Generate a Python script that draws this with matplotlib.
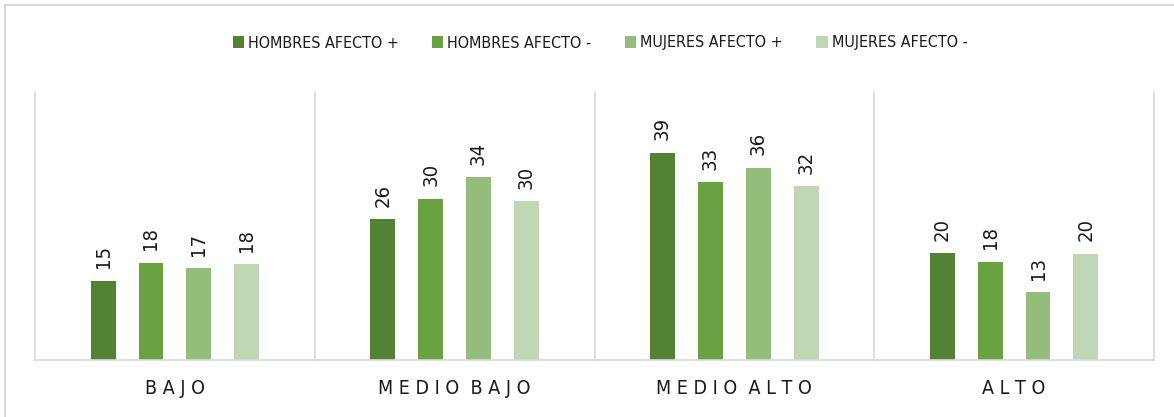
import matplotlib
matplotlib.use('Agg')
import matplotlib.pyplot as plt
from matplotlib import font_manager
from matplotlib.lines import Line2D
import numpy as np

# Datos (porcentajes)
categorias = ['BAJO', 'MEDIO BAJO', 'MEDIO ALTO', 'ALTO']
series = ['HOMBRES AFECTO +', 'HOMBRES AFECTO -', 'MUJERES AFECTO +', 'MUJERES AFECTO -']
hombres_pos = [14.8, 26.3, 38.7, 19.9]
hombres_neg = [18.1, 30.1, 33.2, 18.3]
mujeres_pos = [17.1, 34.1, 35.9, 12.6]
mujeres_neg = [17.9, 29.6, 32.4, 19.8]
valores = [hombres_pos, hombres_neg, mujeres_pos, mujeres_neg]
colores = ['#548235', '#6AA143', '#94BD7B', '#BFD7B4']

# Fuente estrecha parecida a la original
nombres = {f.name for f in font_manager.fontManager.ttflist}
if 'Liberation Sans Narrow' in nombres:
    fuente = dict(family='Liberation Sans Narrow')
else:
    fuente = dict(family='DejaVu Sans', stretch='condensed')

W, H = 1174, 417
fig = plt.figure(figsize=(W / 100, H / 100), dpi=100)
ax = fig.add_axes([35 / W, 1 - 360 / H, (1154 - 35) / W, (360 - 92) / H])

x = np.arange(len(categorias))
paso = 0.171
ancho = 0.089
for i, (vals, col) in enumerate(zip(valores, colores)):
    pos = x + (i - 1.5) * paso
    barras = ax.bar(pos, vals, width=ancho, color=col, label=series[i], zorder=2)
    for b, v in zip(barras, vals):
        ax.annotate(f'{v:.0f}', (b.get_x() + b.get_width() / 2, b.get_height()),
                    xytext=(0, 9), textcoords='offset points', rotation=90,
                    ha='center', va='bottom', fontsize=14.5, color='#1a1a1a', **fuente)

ax.set_xlim(-0.5, 3.5)
ax.set_ylim(0, 50)
ax.set_yticks([])
ax.set_xticks(x)
ax.set_xticklabels(['  '.join(' '.join(p) for p in c.split()) for c in categorias],
                   fontsize=14, color='#1a1a1a', **fuente)
ax.tick_params(axis='x', length=0, pad=14)
for xb in np.arange(-0.5, 4, 1):
    ax.axvline(xb, color='#D9D9D9', lw=1.2, zorder=0, clip_on=False)
for s in ['top', 'left', 'right']:
    ax.spines[s].set_visible(False)
ax.spines['bottom'].set_color('#D9D9D9')
ax.spines['bottom'].set_linewidth(1.2)

# Leyenda
leg = fig.legend(loc='center', bbox_to_anchor=(600 / W, 1 - 43 / H), ncol=4,
                 frameon=False, handlelength=0.7, handleheight=0.7,
                 handletextpad=0.25, columnspacing=2.1,
                 prop=dict(size=11.5, **fuente))
for t in leg.get_texts():
    t.set_color('#1a1a1a')

# Borde exterior (solo se ven izquierda y arriba)
fig.add_artist(Line2D([5 / W, 5 / W], [0, 1 - 5 / H], color='#D9D9D9', lw=1.5))
fig.add_artist(Line2D([5 / W, 1], [1 - 5 / H, 1 - 5 / H], color='#D9D9D9', lw=1.5))

fig.savefig('out.png', dpi=100, facecolor='white')
